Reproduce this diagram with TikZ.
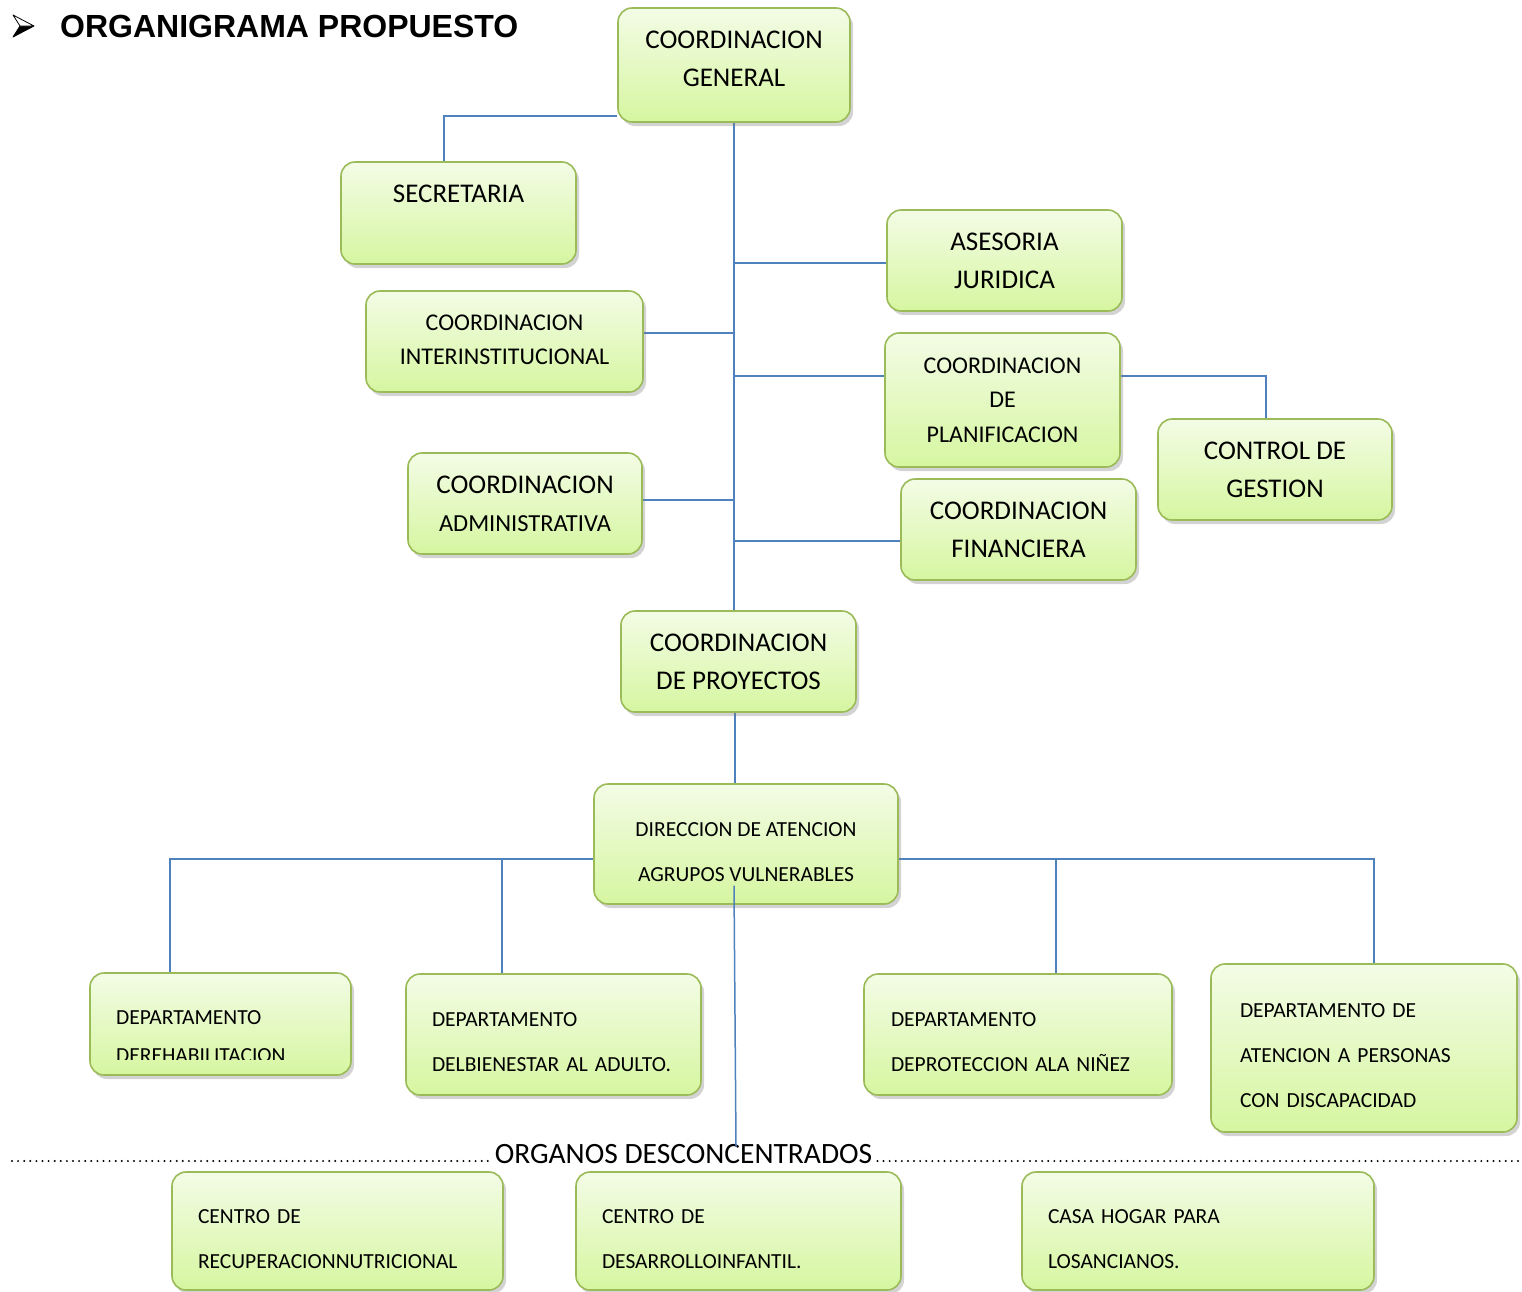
\documentclass[tikz,border=0pt]{standalone}
\usepackage{fontspec}
\setmainfont{Carlito}
\newfontfamily\titulofont{Liberation Sans}
\usetikzlibrary{shadows,backgrounds}
\definecolor{bordeverde}{RGB}{155,187,89}
\definecolor{verdearriba}{RGB}{243,252,230}
\definecolor{verdeabajo}{RGB}{214,246,160}
\definecolor{azullinea}{RGB}{79,129,189}
\newcommand\txtgrande{\fontsize{27}{38}\selectfont}
\newcommand\txtmedio{\fontsize{24}{34.5}\selectfont}
\newcommand\txtchico{\fontsize{21.5}{45}\selectfont}
\begin{document}
\begin{tikzpicture}[x=1pt,y=-1pt,line join=round,line cap=round]
					\tikzset{
						caja/.style={draw=bordeverde,line width=1.6pt,rounded corners=14pt,top color=verdearriba,bottom color=verdeabajo,
							drop shadow={opacity=.35,shadow xshift=3pt,shadow yshift=-4pt},inner sep=0pt,align=center,font=\txtgrande},
						depto/.style={caja,align=left,font=\txtchico,execute at begin node={\rule{0pt}{30pt}}},
						linea/.style={draw=azullinea,line width=1.5pt},
						puntos/.style={line width=2.2pt,line cap=round,dash pattern=on 0pt off 6.1pt},
					}
					\useasboundingbox (0,0) rectangle (1522,1291);
					\filldraw[line width=.8pt,fill=black] (34,26)--(20,26)--(13,37)--cycle;
					\draw[line width=.8pt,fill=white] (34,26)--(13,15)--(20,26)--cycle;
					\node[anchor=base west,inner sep=0pt,font=\titulofont\bfseries\fontsize{32}{36}\selectfont] (titulo) at (60,37) {ORGANIGRAMA PROPUESTO};
					\node[caja,minimum width=232pt,minimum height=114pt] (cg) at (734,65) {COORDINACION\\GENERAL\rule[-12pt]{0pt}{0pt}};
					\node[caja,minimum width=235pt,minimum height=102pt] (sec) at (458.5,213) {SECRETARIA\\~};
					\node[caja,minimum width=235pt,minimum height=101pt] (ase) at (1004.5,260.5) {ASESORIA\\JURIDICA};
					\node[caja,font=\txtmedio,minimum width=277pt,minimum height=101pt] (cint) at (504.5,341.5) {COORDINACION\\INTERINSTITUCIONAL\rule[-4pt]{0pt}{0pt}};
					\node[caja,font=\txtmedio,minimum width=235pt,minimum height=134pt] (cpla) at (1002.5,400) {COORDINACION\\DE\\PLANIFICACION};
					\node[caja,minimum width=234pt,minimum height=101pt] (ctrl) at (1275,469.5) {CONTROL DE\\GESTION};
					\node[caja,minimum width=234pt,minimum height=101pt] (cadm) at (525,503.5) {COORDINACION\\{\fontsize{24.5}{36}\selectfont ADMINISTRATIVA}};
					\node[caja,minimum width=235pt,minimum height=101pt] (cfin) at (1018.5,529.5) {COORDINACION\\FINANCIERA};
					\node[caja,minimum width=235pt,minimum height=101pt] (cproy) at (738.5,661.5) {COORDINACION\\DE PROYECTOS};
					\node[caja,font=\txtchico,minimum width=304pt,minimum height=120pt] (dir) at (746,844) {\rule{0pt}{30pt}DIRECCION DE ATENCION\\AGRUPOS VULNERABLES};
					\node[caja,minimum width=261pt,minimum height=102pt] (dreh) at (220.5,1024) {};
					\begin{scope}
						\clip (100,995) rectangle (345,1059.5);
						\node[anchor=north west,inner sep=0pt,align=left,font=\fontsize{21.5}{38}\selectfont] (drehtxt) at (116,1010) {DEPARTAMENTO\\DEREHABILITACION};
					\end{scope}
					\node[depto,text width=243pt,minimum width=295pt,minimum height=121pt] (dbien) at (553.5,1034.5) {DEPARTAMENTO\\DELBIENESTAR AL ADULTO.};
					\node[depto,text width=254pt,minimum width=308pt,minimum height=121pt] (dprot) at (1018,1034.5) {DEPARTAMENTO\\DEPROTECCION ALA NIÑEZ};
					\node[depto,text width=248pt,minimum width=306pt,minimum height=168pt] (ddisc) at (1364,1048) {DEPARTAMENTO DE\\ATENCION A PERSONAS\\CON DISCAPACIDAD};
					\node[depto,text width=279pt,minimum width=331pt,minimum height=118pt] (cnut) at (337.5,1231) {CENTRO DE\\RECUPERACIONNUTRICIONAL};
					\node[depto,text width=273pt,minimum width=325pt,minimum height=118pt] (cdes) at (738.5,1231) {CENTRO DE\\DESARROLLOINFANTIL.};
					\node[depto,text width=300pt,minimum width=352pt,minimum height=118pt] (casa) at (1198,1231) {CASA HOGAR PARA\\LOSANCIANOS.};
					\node[anchor=base,inner sep=0pt,font=\fontsize{29.5}{30}\selectfont] (organos) at (683.5,1163) {ORGANOS DESCONCENTRADOS};
					\coordinate (pizq) at (12,1161);
					\coordinate (pder) at (1522,1161);
					\draw[puntos] (pizq)--([xshift=-5pt,yshift=2pt]organos.base west);
					\draw[puntos] ([xshift=5pt,yshift=2pt]organos.base east)--(pder);
					\begin{scope}[on background layer]
						\draw[linea] (cg.south)--(cg.south |- cproy.north);
						\draw[linea] ([yshift=-51pt]cg.west)-|([xshift=-14.5pt]sec.north);
						\foreach \n/\lado/\dy in {ase/west/-2.5,cint/east/8.5,cpla/west/24,cadm/east/3.5,cfin/west/-11.5}{
							\draw[linea] ([yshift=\dy pt]\n.\lado)--([yshift=\dy pt]\n.\lado -| cg.south);
						}
						\draw[linea] ([yshift=24pt]cpla.east)-|([xshift=-9pt]ctrl.north);
						\draw[linea] ([xshift=-3.5pt]cproy.south)--([xshift=-3.5pt]cproy.south |- dir.north);
						\draw[linea] ([yshift=-15pt]dir.west)-|([xshift=-50.5pt]dreh.north);
						\draw[linea] ([yshift=-15pt]dir.east)-|([xshift=10pt]ddisc.north);
						\draw[linea] ([xshift=-51.5pt]dbien.north)|-([yshift=-15pt]dir.west);
						\draw[linea] ([xshift=38pt]dprot.north)|-([yshift=-15pt]dir.east);
					\end{scope}
					\coordinate (dirint) at (734,886);
					\coordinate (orgpunto) at (736,1146);
					\draw[linea] (dirint)--(orgpunto);
				\end{tikzpicture}
\end{document}
